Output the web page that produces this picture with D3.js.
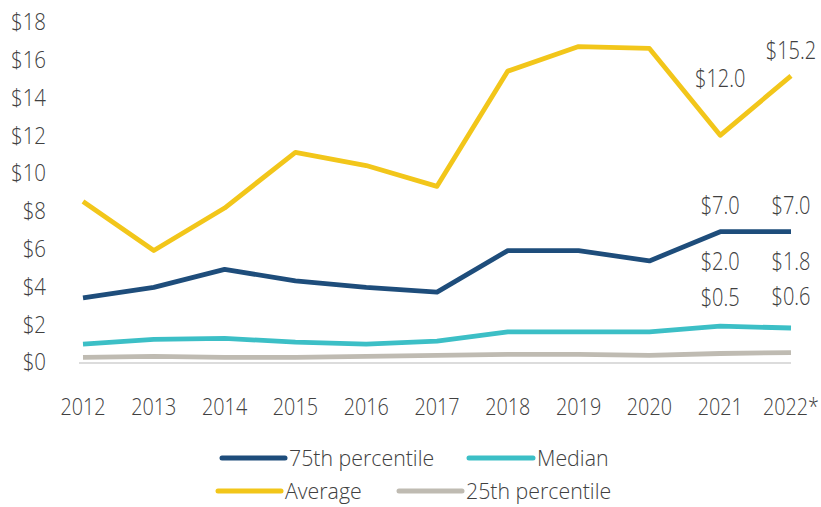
<!DOCTYPE html>
<html><head><meta charset="utf-8">
<script src="https://cdn.jsdelivr.net/npm/d3@7/dist/d3.min.js"></script>
<style>
body{margin:0;background:#fff;}
text{font-family:"Open Sans",sans-serif;font-weight:300;fill:#404040;}
</style></head>
<body><svg id="c" width="821" height="507"></svg>
<script>
const years = ["2012","2013","2014","2015","2016","2017","2018","2019","2020","2021","2022*"];
const p75 = [3.4,3.95,4.9,4.3,3.95,3.7,5.9,5.9,5.35,6.9,6.9];
const median = [0.95,1.2,1.25,1.05,0.95,1.1,1.6,1.6,1.6,1.9,1.8];
const average = [8.5,5.9,8.15,11.1,10.4,9.3,15.4,16.7,16.6,12.0,15.15];
const p25 = [0.25,0.3,0.25,0.25,0.3,0.35,0.4,0.4,0.35,0.45,0.5];
const yTicks = [0,2,4,6,8,10,12,14,16,18];
const seriesNames = ["75th percentile","Median","Average","25th percentile"];
const colors = ["#1e4d7b","#3cbfc6","#f2c61a","#bfbbb2"];

const svg = d3.select("#c");
const x = d3.scalePoint().domain(years).range([83,791]);
const y = d3.scaleLinear().domain([0,18]).range([362,22]);

function txt(g, data, fx, fy, ft, size, anchor, sx){
  return g.selectAll(null).data(data).join("text")
    .attr("transform",(d,i)=>`translate(${fx(d,i)},${fy(d,i)}) scale(${sx},1)`)
    .attr("dy","0.36em").attr("text-anchor",anchor).attr("font-size",size).text(ft);
}

// y tick labels
txt(svg.append("g"), yTicks, ()=>46, d=>y(d), d=>"$"+d, 23, "end", 0.89);
// x tick labels
txt(svg.append("g"), years, d=>x(d), ()=>407, d=>d, 23, "middle", 0.86);
// baseline
svg.append("line").attr("x1",79).attr("x2",791).attr("y1",y(0)+1).attr("y2",y(0)+1)
  .attr("stroke","#d0d0d0").attr("stroke-width",1.5);

const data = [p75, median, average, p25];
const line = d3.line().x((d,i)=>x(years[i])).y(d=>y(d));
[3,1,0,2].forEach(k=>{
  svg.append("path").attr("d",line(data[k])).attr("fill","none")
    .attr("stroke",colors[k]).attr("stroke-width",4.8).attr("stroke-linejoin","round");
});

// annotations
const ann = [
  {t:"$12.0", i:9, v:12.0, dy:-57},
  {t:"$15.2", i:10, v:15.15, dy:-26},
  {t:"$7.0", i:9, v:6.9, dy:-27},
  {t:"$7.0", i:10, v:6.9, dy:-27},
  {t:"$2.0", i:9, v:1.9, dy:-65},
  {t:"$1.8", i:10, v:1.8, dy:-67},
  {t:"$0.5", i:9, v:0.45, dy:-57},
  {t:"$0.6", i:10, v:0.5, dy:-57}
];
txt(svg.append("g"), ann, d=>x(years[d.i]), d=>y(d.v)+d.dy, d=>d.t, 25, "middle", 0.8);

// legend
const leg = [
  {k:0,x:222,y:458,tx:289},
  {k:1,x:469,y:458,tx:537},
  {k:2,x:218,y:491,tx:285},
  {k:3,x:399,y:491,tx:466}
];
const lg = svg.append("g");
leg.forEach(l=>{
  lg.append("line").attr("x1",l.x).attr("x2",l.tx-4).attr("y1",l.y).attr("y2",l.y)
    .attr("stroke",colors[l.k]).attr("stroke-width",5).attr("stroke-linecap","round");
});
txt(lg, leg, d=>d.tx, d=>d.y, d=>seriesNames[d.k], 22, "start", 0.97);
</script></body></html>
